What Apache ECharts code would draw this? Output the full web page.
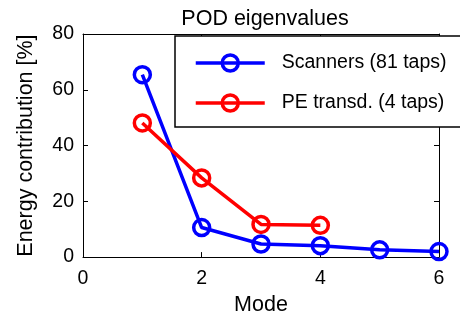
<!DOCTYPE html>
<html>
<head>
<meta charset="utf-8">
<script src="https://cdn.jsdelivr.net/npm/echarts@6/dist/echarts.min.js"></script>
<style>
  html, body { margin: 0; padding: 0; background: #fff; }
  #chart { width: 460px; height: 321px; }
</style>
</head>
<body>
<div id="chart"></div>
<script>
// POD mode energy contributions for the two sensor arrays
const scannerModes = [1, 2, 3, 4, 5, 6];
const scannerEnergy = [65.4, 10.6, 4.7, 4.1, 2.6, 2.0];
const peModes = [1, 2, 3, 4];
const peEnergy = [48.1, 28.4, 11.7, 11.4];
const xTicks = [0, 2, 4, 6];
const yTicks = [0, 20, 40, 60, 80];

const FONT = '"Liberation Sans", Arial, sans-serif';

function pairs(xs, ys) {
  return xs.map((x, i) => [x, ys[i]]);
}

function lineSeries(name, color, xs, ys) {
  return {
    name: name,
    type: 'line',
    data: pairs(xs, ys),
    symbol: 'circle',
    symbolSize: 16,
    lineStyle: { color: color, width: 3.5 },
    itemStyle: { color: 'rgba(255,255,255,0)', borderColor: color, borderWidth: 3.5 },
    emphasis: { disabled: true },
    animation: false
  };
}

const chart = echarts.init(document.getElementById('chart'), null, { renderer: 'canvas' });

const axisCommon = {
  axisLine: { show: true, onZero: false, lineStyle: { color: '#000', width: 1 } },
  axisTick: { show: true, inside: true, length: 5, lineStyle: { color: '#000' } },
  splitLine: { show: false }
};

chart.setOption({
  backgroundColor: '#fff',
  textStyle: { fontFamily: FONT },
  title: {
    text: 'POD eigenvalues',
    left: 260,
    textAlign: 'center',
    top: 3,
    textStyle: { fontFamily: FONT, fontSize: 21.5, fontWeight: 'normal', color: '#000' }
  },
  grid: { left: 83, right: 21, top: 34, bottom: 59 },
  graphic: [{
    type: 'rect',
    z: 3,
    shape: { x: 175, y: 36, width: 300, height: 91 },
    style: { fill: '#fff', stroke: '#000', lineWidth: 1.5 }
  }],
  legend: {
    z: 5,
    left: 189,
    top: 48,
    orient: 'vertical',
    itemWidth: 69,
    itemHeight: 20,
    itemGap: 20,
    lineStyle: { width: 3.5 },
    itemStyle: { borderWidth: 3.5 },
    textStyle: { fontFamily: FONT, fontSize: 19.5, color: '#000', padding: [0, 0, 0, 12] },
    data: ['Scanners (81 taps)', 'PE transd. (4 taps)']
  },
  xAxis: [
    Object.assign({
      type: 'value', min: 0, max: 6, interval: 2, position: 'bottom',
      name: 'Mode', nameLocation: 'middle', nameGap: 36,
      nameTextStyle: { fontFamily: FONT, fontSize: 21.5, color: '#000' },
      axisLabel: {
        fontFamily: FONT, fontSize: 19.5, color: '#000', margin: 12,
        formatter: v => (xTicks.includes(v) ? String(v) : '')
      }
    }, axisCommon),
    Object.assign({
      type: 'value', min: 0, max: 6, interval: 2, position: 'top',
      axisLabel: { show: false }
    }, axisCommon)
  ],
  yAxis: [
    Object.assign({
      type: 'value', min: 0, max: 80, interval: 20, position: 'left',
      name: 'Energy contribution [%]', nameLocation: 'middle', nameGap: 46,
      nameTextStyle: { fontFamily: FONT, fontSize: 21.5, color: '#000' },
      axisLabel: {
        fontFamily: FONT, fontSize: 19.5, color: '#000', margin: 9,
        formatter: v => (yTicks.includes(v) ? String(v) : '')
      }
    }, axisCommon),
    Object.assign({
      type: 'value', min: 0, max: 80, interval: 20, position: 'right',
      axisLabel: { show: false }
    }, axisCommon)
  ],
  series: [
    lineSeries('Scanners (81 taps)', '#0000ff', scannerModes, scannerEnergy),
    lineSeries('PE transd. (4 taps)', '#ff0000', peModes, peEnergy)
  ]
});
</script>
</body>
</html>
